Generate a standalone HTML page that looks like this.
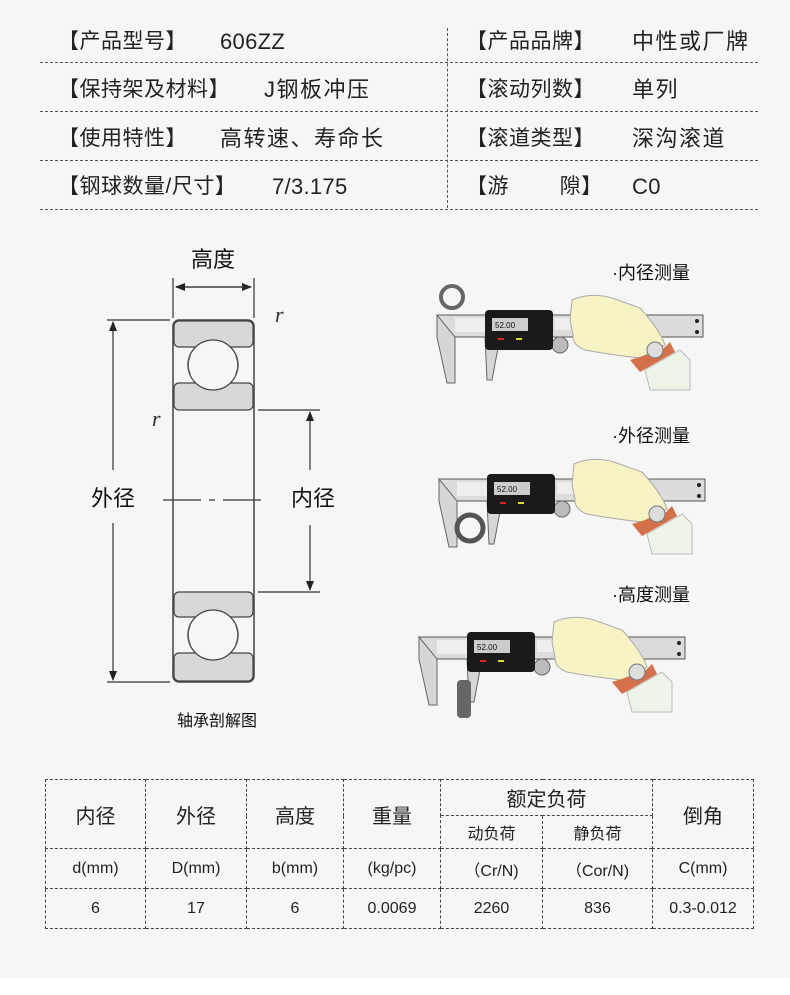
<!DOCTYPE html>
<html><head><meta charset="utf-8"><style>
html,body{margin:0;padding:0;}
body{width:790px;height:995px;background:#fff;position:relative;overflow:hidden;font-family:"Liberation Sans","Noto Sans CJK SC",sans-serif;color:#222;}
#bg{position:absolute;left:0;top:0;width:790px;height:978px;background:#f6f6f6;}
.t{position:absolute;font-size:21px;white-space:nowrap;line-height:24px;letter-spacing:0.5px;}
.v{position:absolute;font-size:22px;white-space:nowrap;line-height:24px;letter-spacing:1.5px;}
.l{letter-spacing:0.3px;}
.hl{position:absolute;left:40px;width:718px;border-top:1px dashed #555;height:0;}
table{position:absolute;left:45px;top:779px;width:708px;border-collapse:collapse;table-layout:fixed;}
td{border:1px dashed #444;text-align:center;padding:0;font-size:16px;color:#222;}
.h{font-size:20px;}
</style></head><body>
<div id="bg"></div>

<div class="hl" style="top:62px"></div>
<div class="hl" style="top:111px"></div>
<div class="hl" style="top:160px"></div>
<div class="hl" style="top:209px"></div>
<div style="position:absolute;left:447px;top:28px;height:180px;border-left:1px dashed #555"></div>

<div class="t" style="left:58px;top:30px">【产品型号】</div><div class="v l" style="left:220px;top:30px">606ZZ</div>
<div class="t" style="left:58px;top:78px">【保持架及材料】</div><div class="v" style="left:264px;top:78px">J钢板冲压</div>
<div class="t" style="left:58px;top:127px">【使用特性】</div><div class="v" style="left:220px;top:127px">高转速、寿命长</div>
<div class="t" style="left:58px;top:175px">【钢球数量/尺寸】</div><div class="v l" style="left:272px;top:175px">7/3.175</div>
<div class="t" style="left:466px;top:30px">【产品品牌】</div><div class="v" style="left:632px;top:30px">中性或厂牌</div>
<div class="t" style="left:466px;top:78px">【滚动列数】</div><div class="v" style="left:632px;top:78px">单列</div>
<div class="t" style="left:466px;top:127px">【滚道类型】</div><div class="v" style="left:632px;top:127px">深沟滚道</div>
<div class="t" style="left:466px;top:175px">【游&nbsp;&nbsp;&nbsp;&nbsp;&nbsp;&nbsp;&nbsp;&nbsp;隙】</div><div class="v l" style="left:632px;top:175px">C0</div>

<svg style="position:absolute;left:0;top:0" width="790" height="995" xmlns="http://www.w3.org/2000/svg">
<defs>
<marker id="ar" markerWidth="10" markerHeight="8" refX="9" refY="4" orient="auto" markerUnits="userSpaceOnUse"><path d="M0,0 L10,4 L0,8 Z" fill="#222"/></marker>
<g id="cal">
  <rect x="437" y="315" width="266" height="22" fill="#dcdcdc" stroke="#555"/>
  <rect x="455" y="318" width="30" height="14" fill="#eee"/>
  <rect x="555" y="318" width="35" height="12" fill="#eee"/>
  <circle cx="697" cy="321" r="2" fill="#222"/><circle cx="697" cy="332" r="2" fill="#222"/>
  <path d="M437,315 L437,337 L447,383 L455,383 L455,337 Z" fill="#d6d6d6" stroke="#666"/>
  <path d="M485,337 L487,380 L492,380 L500,337 Z" fill="#d6d6d6" stroke="#666"/>
  <circle cx="560" cy="345" r="8" fill="#bbb" stroke="#666"/>
  <rect x="485" y="310" width="68" height="40" rx="4" fill="#1a1a1a"/>
  <rect x="492" y="318" width="36" height="13" fill="#ccc"/>
  <text x="495" y="328" font-size="8" fill="#111" font-family="Liberation Sans">52.00</text>
  <rect x="498" y="338" width="6" height="2" fill="#d22"/><rect x="516" y="338" width="6" height="2" fill="#dd2"/>
  <path d="M572,300 Q590,292 612,298 L640,308 Q660,330 665,345 L640,358 Q612,355 585,350 Q572,345 573,335 L570,320 Z" fill="#f7f3c4" stroke="#aaa"/>
  <path d="M630,360 L662,350 L670,342 L675,352 L640,372 Z" fill="#d4704a"/>
  <circle cx="655" cy="350" r="8" fill="#ddd" stroke="#777"/>
  <path d="M645,370 L680,350 L690,360 L690,390 L650,390 Z" fill="#eef5e8" stroke="#bbb"/>
</g>
</defs>
<use href="#cal"/>
<circle cx="452" cy="297" r="11" fill="none" stroke="#666" stroke-width="4"/>
<use href="#cal" transform="translate(2,164)"/>
<circle cx="470" cy="528" r="13" fill="none" stroke="#555" stroke-width="5"/>
<use href="#cal" transform="translate(-18,322)"/>
<rect x="457" y="680" width="14" height="38" rx="4" fill="#666"/>

<g stroke="#333" stroke-width="1.2" fill="none">
<line x1="173" y1="278" x2="173" y2="318"/><line x1="254" y1="278" x2="254" y2="318"/>
<line x1="176" y1="287" x2="251" y2="287" marker-end="url(#ar)"/>
<line x1="251" y1="287" x2="176" y2="287" marker-end="url(#ar)"/>
<line x1="107" y1="320" x2="170" y2="320"/><line x1="107" y1="682" x2="170" y2="682"/>
<line x1="113" y1="470" x2="113" y2="322" marker-end="url(#ar)"/>
<line x1="113" y1="523" x2="113" y2="680" marker-end="url(#ar)"/>
<line x1="258" y1="410" x2="320" y2="410"/><line x1="258" y1="592" x2="320" y2="592"/>
<line x1="310" y1="470" x2="310" y2="412" marker-end="url(#ar)"/>
<line x1="310" y1="525" x2="310" y2="590" marker-end="url(#ar)"/>
<line x1="163" y1="500" x2="267" y2="500" stroke-dasharray="38,8,6,8"/>
</g>
<rect x="173" y="320" width="81" height="362" rx="6" fill="none" stroke="#444" stroke-width="1.5"/>
<g fill="#d8d8d8" stroke="#444" stroke-width="1.2">
<rect x="174" y="321" width="79" height="26" rx="5"/>
<rect x="174" y="383" width="79" height="27" rx="5"/>
<rect x="174" y="592" width="79" height="25" rx="5"/>
<rect x="174" y="653" width="79" height="28" rx="5"/>
</g>
<g fill="#f6f6f6" stroke="#444" stroke-width="1.3">
<circle cx="213" cy="365" r="25"/><circle cx="213" cy="635" r="25"/>
</g>
<g fill="none" stroke="#555" stroke-width="1.5">
<path d="M190,356 Q186,365 190,374"/><path d="M236,356 Q240,365 236,374"/>
<path d="M190,626 Q186,635 190,644"/><path d="M236,626 Q240,635 236,644"/>
</g>
<text x="275" y="322" font-size="22" font-style="italic" font-family="Liberation Serif" fill="#333">r</text>
<text x="152" y="426" font-size="22" font-style="italic" font-family="Liberation Serif" fill="#333">r</text>
<g font-family="Liberation Sans, Noto Sans CJK SC, sans-serif" fill="#111">
<text x="213" y="267" font-size="22" text-anchor="middle">高度</text>
<text x="113" y="506" font-size="22" text-anchor="middle">外径</text>
<text x="313" y="506" font-size="22" text-anchor="middle">内径</text>
<text x="217" y="726" font-size="16" text-anchor="middle">轴承剖解图</text>
<text x="612" y="279" font-size="18">·内径测量</text>
<text x="612" y="442" font-size="18">·外径测量</text>
<text x="612" y="601" font-size="18">·高度测量</text>
</g>
</svg>

<table>
<colgroup><col style="width:100px"><col style="width:101px"><col style="width:97px"><col style="width:97px"><col style="width:102px"><col style="width:110px"><col style="width:101px"></colgroup>
<tr style="height:36px"><td rowspan="2" class="h">内径</td><td rowspan="2" class="h">外径</td><td rowspan="2" class="h">高度</td><td rowspan="2" class="h">重量</td><td colspan="2" class="h" style="border-bottom:1px dashed #444">额定负荷</td><td rowspan="2" class="h">倒角</td></tr>
<tr style="height:33px"><td>动负荷</td><td>静负荷</td></tr>
<tr style="height:40px"><td>d(mm)</td><td>D(mm)</td><td>b(mm)</td><td>(kg/pc)</td><td>（Cr/N)</td><td>（Cor/N)</td><td>C(mm)</td></tr>
<tr style="height:40px"><td>6</td><td>17</td><td>6</td><td>0.0069</td><td>2260</td><td>836</td><td>0.3-0.012</td></tr>
</table>
</body></html>
